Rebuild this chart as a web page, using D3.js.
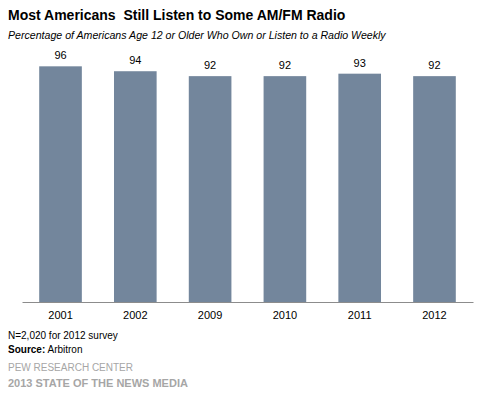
<!DOCTYPE html>
<html>
<head>
<meta charset="utf-8">
<script src="https://cdn.jsdelivr.net/npm/d3@7"></script>
<style>
  body { margin: 0; background: #fff; }
  svg text { font-family: "Liberation Sans", Arial, sans-serif !important; }
</style>
</head>
<body>
<div id="chart"></div>
<script>
var years = ['2001', '2002', '2009', '2010', '2011', '2012'];
var values = [96, 94, 92, 92, 93, 92];

var svgWidth = 489,
    svgHeight = 395,
    margin = { top: 56.5, right: 16, bottom: 93, left: 22 },
    width = svgWidth - margin.left - margin.right,
    height = svgHeight - margin.top - margin.bottom;

var svg = d3.select('#chart').append('svg')
    .attr('width', svgWidth)
    .attr('height', svgHeight);

// titles
svg.append('text')
    .attr('x', 8).attr('y', 20)
    .attr('font-size', 14).attr('font-weight', 'bold')
    .style('white-space', 'pre')
    .text('Most Americans  Still Listen to Some AM/FM Radio');

svg.append('text')
    .attr('x', 8).attr('y', 39)
    .attr('font-size', 10.6).attr('font-style', 'italic')
    .text('Percentage of Americans Age 12 or Older Who Own or Listen to a Radio Weekly');

var g = svg.append('g')
    .attr('transform', 'translate(' + margin.left + ',' + margin.top + ')');

var x = d3.scaleBand().domain(years).range([0, width]).paddingInner(0.43).paddingOuter(0.23);
var y = d3.scaleLinear().domain([0, 100]).range([height, 0]);

g.selectAll('rect.bar')
    .data(values)
    .enter().append('rect')
    .attr('class', 'bar')
    .attr('x', function (d, i) { return x(years[i]); })
    .attr('y', function (d) { return y(d); })
    .attr('width', x.bandwidth())
    .attr('height', function (d) { return height - y(d); })
    .attr('fill', '#73869c');

g.selectAll('text.val')
    .data(values)
    .enter().append('text')
    .attr('class', 'val')
    .attr('x', function (d, i) { return x(years[i]) + x.bandwidth() / 2; })
    .attr('y', function (d) { return y(d) - 7; })
    .attr('text-anchor', 'middle')
    .attr('font-size', 11)
    .text(function (d) { return d; });

var xAxis = d3.axisBottom(x).tickSize(0).tickPadding(9);
var ax = g.append('g')
    .attr('transform', 'translate(0,' + height + ')')
    .call(xAxis)
    .attr('font-family', null);
ax.select('.domain').attr('stroke', '#8c8c8c');
ax.selectAll('text')
    .attr('font-size', 11)
    .attr('fill', '#000');

// notes
svg.append('text')
    .attr('x', 8).attr('y', 339)
    .attr('font-size', 10)
    .text('N=2,020 for 2012 survey');

var src = svg.append('text')
    .attr('x', 8).attr('y', 353)
    .attr('font-size', 10);
src.append('tspan').attr('font-weight', 'bold').text('Source:');
src.append('tspan').text(' Arbitron');

svg.append('text')
    .attr('x', 8).attr('y', 371)
    .attr('font-size', 10).attr('fill', '#a6a6a6')
    .text('PEW RESEARCH CENTER');

svg.append('text')
    .attr('x', 8).attr('y', 387)
    .attr('font-size', 11).attr('font-weight', 'bold').attr('fill', '#a6a6a6')
    .text('2013 STATE OF THE NEWS MEDIA');
</script>
</body>
</html>
